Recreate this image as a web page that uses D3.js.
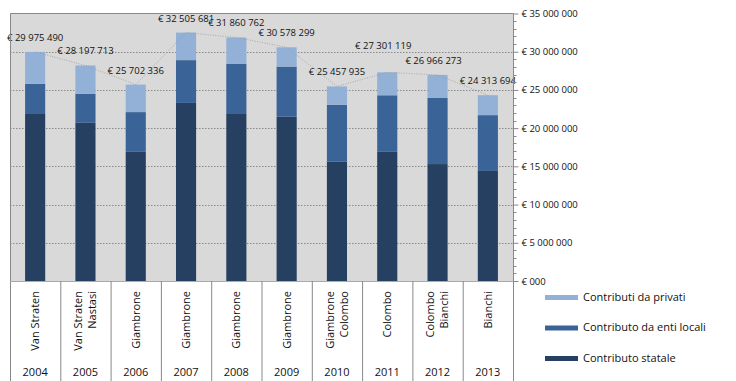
<!DOCTYPE html>
<html>
<head>
<meta charset="utf-8">
<script src="https://cdn.jsdelivr.net/npm/d3@7"></script>
<style>
  html, body { margin: 0; padding: 0; background: #fff; }
  svg { display: block; font-family: "Open Sans", "Liberation Sans", sans-serif; }
</style>
</head>
<body>
<svg id="chart" width="736" height="381"></svg>
<script>
(function () {
  'use strict';

  // ── Data ────────────────────────────────────────────────────────────────
  const years   = ['2004', '2005', '2006', '2007', '2008', '2009', '2010', '2011', '2012', '2013'];
  const mayors  = [['Van Straten'], ['Van Straten', 'Nastasi'], ['Giambrone'], ['Giambrone'], ['Giambrone'],
                   ['Giambrone'], ['Giambrone', 'Colombo'], ['Colombo'], ['Colombo', 'Bianchi'], ['Bianchi']];
  const statale = [21950000, 20700000, 16900000, 23300000, 21950000, 21500000, 15600000, 16900000, 15300000, 14400000];
  const locali  = [3850000, 3800000, 5200000, 5600000, 6450000, 6550000, 7450000, 7400000, 8650000, 7300000];
  const totals  = [29975490, 28197713, 25702336, 32505681, 31860762, 30578299, 25457935, 27301119, 26966273, 24313694];
  const privati = totals.map((t, i) => t - statale[i] - locali[i]);
  const yTicks  = [0, 5e6, 10e6, 15e6, 20e6, 25e6, 30e6, 35e6];

  const SERIES = [
    { key: 'statale', name: 'Contributo statale',          values: statale, color: '#254061' },
    { key: 'locali',  name: 'Contributo da enti locali',   values: locali,  color: '#3a6397' },
    { key: 'privati', name: 'Contributi da privati',       values: privati, color: '#93b1d6' },
  ];

  const svg = d3.select('#chart');
  const L = 10, R = 513, T = 13.5, B = 281, H = 381;

  const x = d3.scaleBand().domain(years).range([L, R]).paddingInner(0.6).paddingOuter(0.3);
  const band = d3.scaleBand().domain(years).range([L, R]);
  const y = d3.scaleLinear().domain([0, 35e6]).range([B, T]);

  // ── Plot background + grid ──────────────────────────────────────────────
  svg.append('rect').attr('x', L).attr('y', T).attr('width', R - L).attr('height', B - T).attr('fill', '#d9d9d9');

  svg.append('g').selectAll('line').data(yTicks.filter(v => v > 0 && v < 35e6)).join('line')
    .attr('x1', L).attr('x2', R)
    .attr('y1', d => Math.round(y(d)) + 0.5).attr('y2', d => Math.round(y(d)) + 0.5)
    .attr('stroke', '#8a8a8a').attr('stroke-dasharray', '1.5,1.5');

  // ── Stacked bars ────────────────────────────────────────────────────────
  const rows = years.map((yr, i) => ({ year: yr, statale: statale[i], locali: locali[i], privati: privati[i] }));
  const stacked = d3.stack().keys(SERIES.map(s => s.key))(rows);

  svg.append('g').selectAll('g').data(stacked).join('g')
    .attr('fill', (d, i) => SERIES[i].color)
    .selectAll('rect').data(d => d).join('rect')
    .attr('x', d => x(d.data.year))
    .attr('width', x.bandwidth())
    .attr('y', d => y(d[1]))
    .attr('height', d => y(d[0]) - y(d[1]));

  // ── Total line + labels ─────────────────────────────────────────────────
  const cx = yr => band(yr) + band.bandwidth() / 2;
  svg.append('path')
    .datum(totals)
    .attr('fill', 'none').attr('stroke', '#9a9a9a').attr('stroke-width', 0.8)
    .attr('stroke-dasharray', '1,1.5')
    .attr('d', d3.line().x((d, i) => cx(years[i])).y(d => y(d)));

  // the 2011 label sits higher in the original so it clears its neighbour
  const fmt = v => '€ ' + d3.format(',')(v).replace(/,/g, ' ');
  svg.append('g').selectAll('text').data(totals).join('text')
    .attr('x', (d, i) => cx(years[i]) - (i >= 7 && i <= 8 ? 4 : 0))
    .attr('y', (d, i) => y(d) - (years[i] === '2011' ? 23 : 11))
    .attr('text-anchor', 'middle')
    .attr('font-size', 9.5).attr('fill', '#111')
    .text(fmt);

  // ── Frame ───────────────────────────────────────────────────────────────
  svg.append('path').attr('fill', 'none').attr('stroke', '#888')
    .attr('d', `M${L + 0.5},${H} V${T} H${R + 0.5} V${H}`);
  svg.append('line').attr('x1', L).attr('x2', R).attr('y1', B + 0.5).attr('y2', B + 0.5).attr('stroke', '#aaa');

  // ── Right axis ──────────────────────────────────────────────────────────
  const axis = svg.append('g').attr('transform', `translate(${R + 0.5},0)`)
    .call(d3.axisRight(y).tickValues(yTicks).tickSize(5).tickPadding(3)
      .tickFormat(d => d === 0 ? '€ 000' : fmt(d)));
  axis.select('.domain').remove();
  axis.selectAll('line').attr('stroke', '#888');
  axis.selectAll('text').attr('font-size', 9.5).attr('fill', '#111').attr('font-family', '"Open Sans", sans-serif');
  svg.append('g').attr('transform', `translate(${R + 0.5},0)`).selectAll('line')
    .data(d3.range(1e6, 35e6, 1e6).filter(v => v % 5e6 !== 0)).join('line')
    .attr('x1', 0).attr('x2', 3)
    .attr('y1', d => Math.round(y(d)) + 0.5).attr('y2', d => Math.round(y(d)) + 0.5)
    .attr('stroke', '#888');

  // ── Category table ──────────────────────────────────────────────────────
  svg.append('g').selectAll('line').data(years.slice(1)).join('line')
    .attr('x1', d => band(d) + 0.5).attr('x2', d => band(d) + 0.5)
    .attr('y1', B).attr('y2', H).attr('stroke', '#888');

  const cat = svg.append('g').selectAll('g').data(years).join('g');
  cat.append('text')
    .attr('x', d => cx(d)).attr('y', 376)
    .attr('text-anchor', 'middle').attr('font-size', 11).attr('fill', '#111')
    .text(d => d);
  cat.each(function (yr, i) {
    const lines = mayors[i];
    const off = lines.length === 1 ? [0] : [-7, 7];
    d3.select(this).selectAll('text.m').data(lines).join('text')
      .attr('class', 'm')
      .attr('transform', (d, j) => `translate(${cx(yr) + off[j]},291) rotate(-90)`)
      .attr('text-anchor', 'end').attr('dy', '0.35em')
      .attr('font-size', 11).attr('fill', '#111')
      .text(d => d);
  });

  // ── Legend ──────────────────────────────────────────────────────────────
  const legend = svg.append('g').selectAll('g').data(SERIES.slice().reverse()).join('g')
    .attr('transform', (d, i) => `translate(545,${297 + i * 30.5})`);
  legend.append('rect').attr('x', 0).attr('y', -2).attr('width', 33).attr('height', 5).attr('fill', d => d.color);
  legend.append('text').attr('x', 38).attr('y', 0).attr('dy', '0.35em')
    .attr('font-size', 11).attr('fill', '#111').text(d => d.name);
})();
</script>
</body>
</html>
